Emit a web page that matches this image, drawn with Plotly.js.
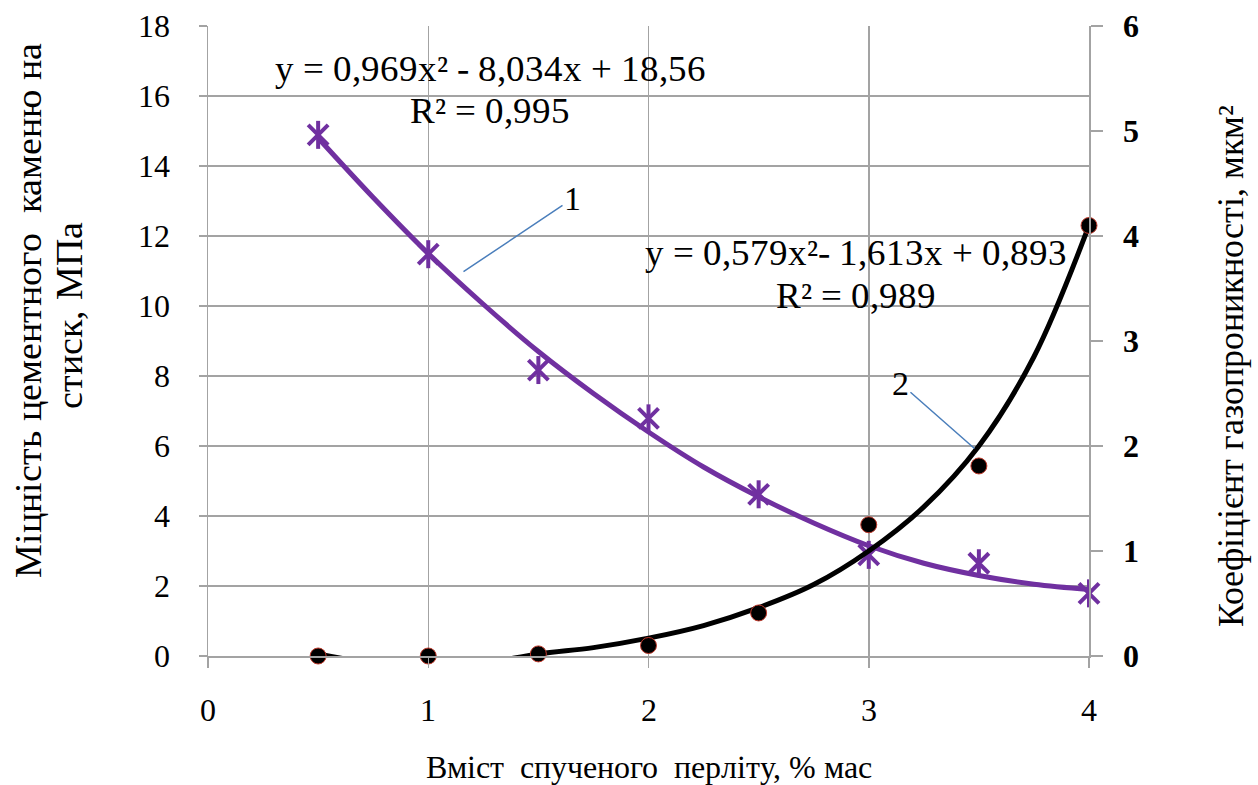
<!DOCTYPE html>
<html>
<head>
<meta charset="utf-8">
<script src="https://cdn.plot.ly/plotly-3.0.1.min.js"></script>
<style>
@font-face { font-family: 'TNRWeb'; font-weight: 400; font-style: normal;
  src: local('Liberation Serif'), local('LiberationSerif'), local('Times New Roman'), local('TimesNewRomanPSMT'); }
@font-face { font-family: 'TNRWeb'; font-weight: 700; font-style: normal;
  src: local('Liberation Serif Bold'), local('LiberationSerif-Bold'), local('Times New Roman Bold'), local('TimesNewRomanPS-BoldMT'); }
html,body{margin:0;padding:0;background:#fff;}
#chart{width:1258px;height:785px;}
</style>
</head>
<body>
<div id="chart"></div>
<script>
const perliteContent = [0.5, 1.0, 1.5, 2.0, 2.5, 3.0, 3.5, 4.0];           // % mass
const strengthMPa    = [14.89, 11.48, 8.17, 6.79, 4.62, 2.89, 2.65, 1.79];  // series 1, left axis
const permeability   = [0.0, 0.0, 0.02, 0.10, 0.41, 1.25, 1.81, 4.10];      // series 2, right axis

// Trend curves
const trendX          = [0.5, 0.75, 1.0, 1.25, 1.5, 1.75, 2.0, 2.25, 2.5, 2.75, 3.0, 3.25, 3.5, 3.75, 4.0];
const strengthTrend   = [14.8, 13.1, 11.5, 10.05, 8.7, 7.5, 6.4, 5.4, 4.55, 3.8, 3.15, 2.65, 2.3, 2.05, 1.9];
const permeabTrend    = [0.02, -0.07, -0.11, -0.07, 0.02, 0.08, 0.17, 0.29, 0.46, 0.68, 1.0, 1.42, 2.0, 2.85, 4.1];

const xTicks  = [0, 1, 2, 3, 4];
const yTicks  = [0, 2, 4, 6, 8, 10, 12, 14, 16, 18];
const y2Ticks = [0, 1, 2, 3, 4, 5, 6];

const xTitle   = 'Вміст\u00A0\u00A0спученого\u00A0\u00A0перліту, % мас';
const yTitle1  = 'Міцність цементного\u00A0\u00A0каменю на';
const yTitle2  = 'стиск, МПа';
const y2Title  = 'Коефіцієнт газопроникності, мкм²';
const eq1 = 'y = 0,969x² - 8,034x + 18,56';
const r1  = 'R² = 0,995';
const eq2 = 'y = 0,579x²- 1,613x + 0,893';
const r2  = 'R² = 0,989';

const PURPLE = '#7030A0';
const GRID = '#a3a3a3';
const FONT = 'TNRWeb, Liberation Serif, Times New Roman, serif';

const traces = [
  {x: trendX, y: strengthTrend, mode: 'lines', line: {color: PURPLE, width: 5, shape: 'spline', smoothing: 1},
   xaxis: 'x', yaxis: 'y'},
  {x: perliteContent, y: strengthMPa, mode: 'markers', cliponaxis: false,
   marker: {symbol: 'x-thin-open', size: 20, color: PURPLE, line: {color: PURPLE, width: 4}}, xaxis: 'x', yaxis: 'y'},
  {x: perliteContent, y: strengthMPa, mode: 'markers', cliponaxis: false,
   marker: {symbol: 'line-ns-open', size: 20, color: PURPLE, line: {color: PURPLE, width: 4}}, xaxis: 'x', yaxis: 'y'},
  {x: trendX, y: permeabTrend, mode: 'lines', line: {color: '#000', width: 5, shape: 'spline', smoothing: 1},
   xaxis: 'x', yaxis: 'y2'},
  {x: perliteContent, y: permeability, mode: 'markers', cliponaxis: false,
   marker: {symbol: 'circle', size: 16, color: '#000', line: {color: '#c0392b', width: 1}}, xaxis: 'x', yaxis: 'y2'}
];

const txt = (size) => ({family: FONT, size: size, color: '#000'});

const layout = {
  width: 1258, height: 785,
  margin: {l: 208, r: 169, t: 26, b: 129},
  paper_bgcolor: '#fff', plot_bgcolor: '#fff',
  showlegend: false,
  font: {family: FONT, color: '#000'},
  xaxis: {
    range: [0, 4], tickvals: xTicks, ticktext: xTicks.map(String),
    showgrid: true, gridcolor: GRID, gridwidth: 1.5,
    showline: true, linecolor: GRID, linewidth: 1.5, zeroline: false,
    ticks: 'outside', ticklen: 10, tickcolor: GRID, tickwidth: 1.5,
    ticklabelstandoff: 15,
    tickfont: txt(32),
    title: {text: xTitle, font: txt(32), standoff: 28}
  },
  yaxis: {
    range: [0, 18], tickvals: yTicks, ticktext: yTicks.map(String),
    showgrid: true, gridcolor: GRID, gridwidth: 1.5,
    showline: true, linecolor: GRID, linewidth: 1.5, zeroline: false,
    ticks: 'outside', ticklen: 8, tickcolor: GRID, tickwidth: 1.5,
    ticklabelstandoff: 22,
    tickfont: txt(32)
  },
  yaxis2: {
    overlaying: 'y', side: 'right', anchor: 'x',
    range: [0, 6], tickvals: y2Ticks, ticktext: y2Ticks.map(String),
    showgrid: false, showline: true, linecolor: GRID, linewidth: 1.5, zeroline: false,
    ticks: 'outside', ticklen: 12, tickcolor: GRID, tickwidth: 1.5,
    ticklabelstandoff: 14,
    tickfont: {family: FONT, size: 32, color: '#000', weight: 700}
  },
  annotations: [
    // axis titles (placed as in the reference, off-centre)
    {xref: 'paper', yref: 'paper', x: -0.204, y: (656 - 311) / 630, xanchor: 'center', yanchor: 'middle',
     text: yTitle1, textangle: -90, showarrow: false, font: txt(38)},
    {xref: 'paper', yref: 'paper', x: -0.158, y: (656 - 315) / 630, xanchor: 'center', yanchor: 'middle',
     text: yTitle2, textangle: -90, showarrow: false, font: txt(38)},
    {xref: 'paper', yref: 'paper', x: 1.161, y: (656 - 366) / 630, xanchor: 'center', yanchor: 'middle',
     text: y2Title, textangle: -90, showarrow: false, font: txt(36)},
    // trend equations
    {xref: 'x', yref: 'y', x: 1.281, y: 16.8, text: eq1, showarrow: false, font: txt(37)},
    {xref: 'x', yref: 'y', x: 1.281, y: 15.6, text: r1, showarrow: false, font: txt(37)},
    {xref: 'x', yref: 'y', x: 2.943, y: 11.54, text: eq2, showarrow: false, font: txt(37)},
    {xref: 'x', yref: 'y', x: 2.943, y: 10.31, text: r2, showarrow: false, font: txt(37)},
    // series labels with leader lines
    {xref: 'x', yref: 'y', x: 1.160, y: 10.98, text: '1', showarrow: true, arrowhead: 0, arrowwidth: 1.5,
     arrowcolor: '#4a7ebb', ax: 109, ay: -73, font: txt(34)},
    {xref: 'x', yref: 'y', x: 3.480, y: 5.93, text: '2', showarrow: true, arrowhead: 0, arrowwidth: 1.5,
     arrowcolor: '#4a7ebb', ax: -74, ay: -65, font: txt(34)}
  ]
};

const config = {displayModeBar: false, staticPlot: true};
function draw() { return Plotly.newPlot('chart', traces, layout, config); }

draw();
if (document.fonts && document.fonts.load) {
  Promise.all([
    document.fonts.load('32px TNRWeb', 'Вміст спученого перліту Коефіцієнт мкм² y=0,9'),
    document.fonts.load('bold 32px TNRWeb', '0123456')
  ]).then(() => draw(), () => draw());
}
</script>
</body>
</html>
